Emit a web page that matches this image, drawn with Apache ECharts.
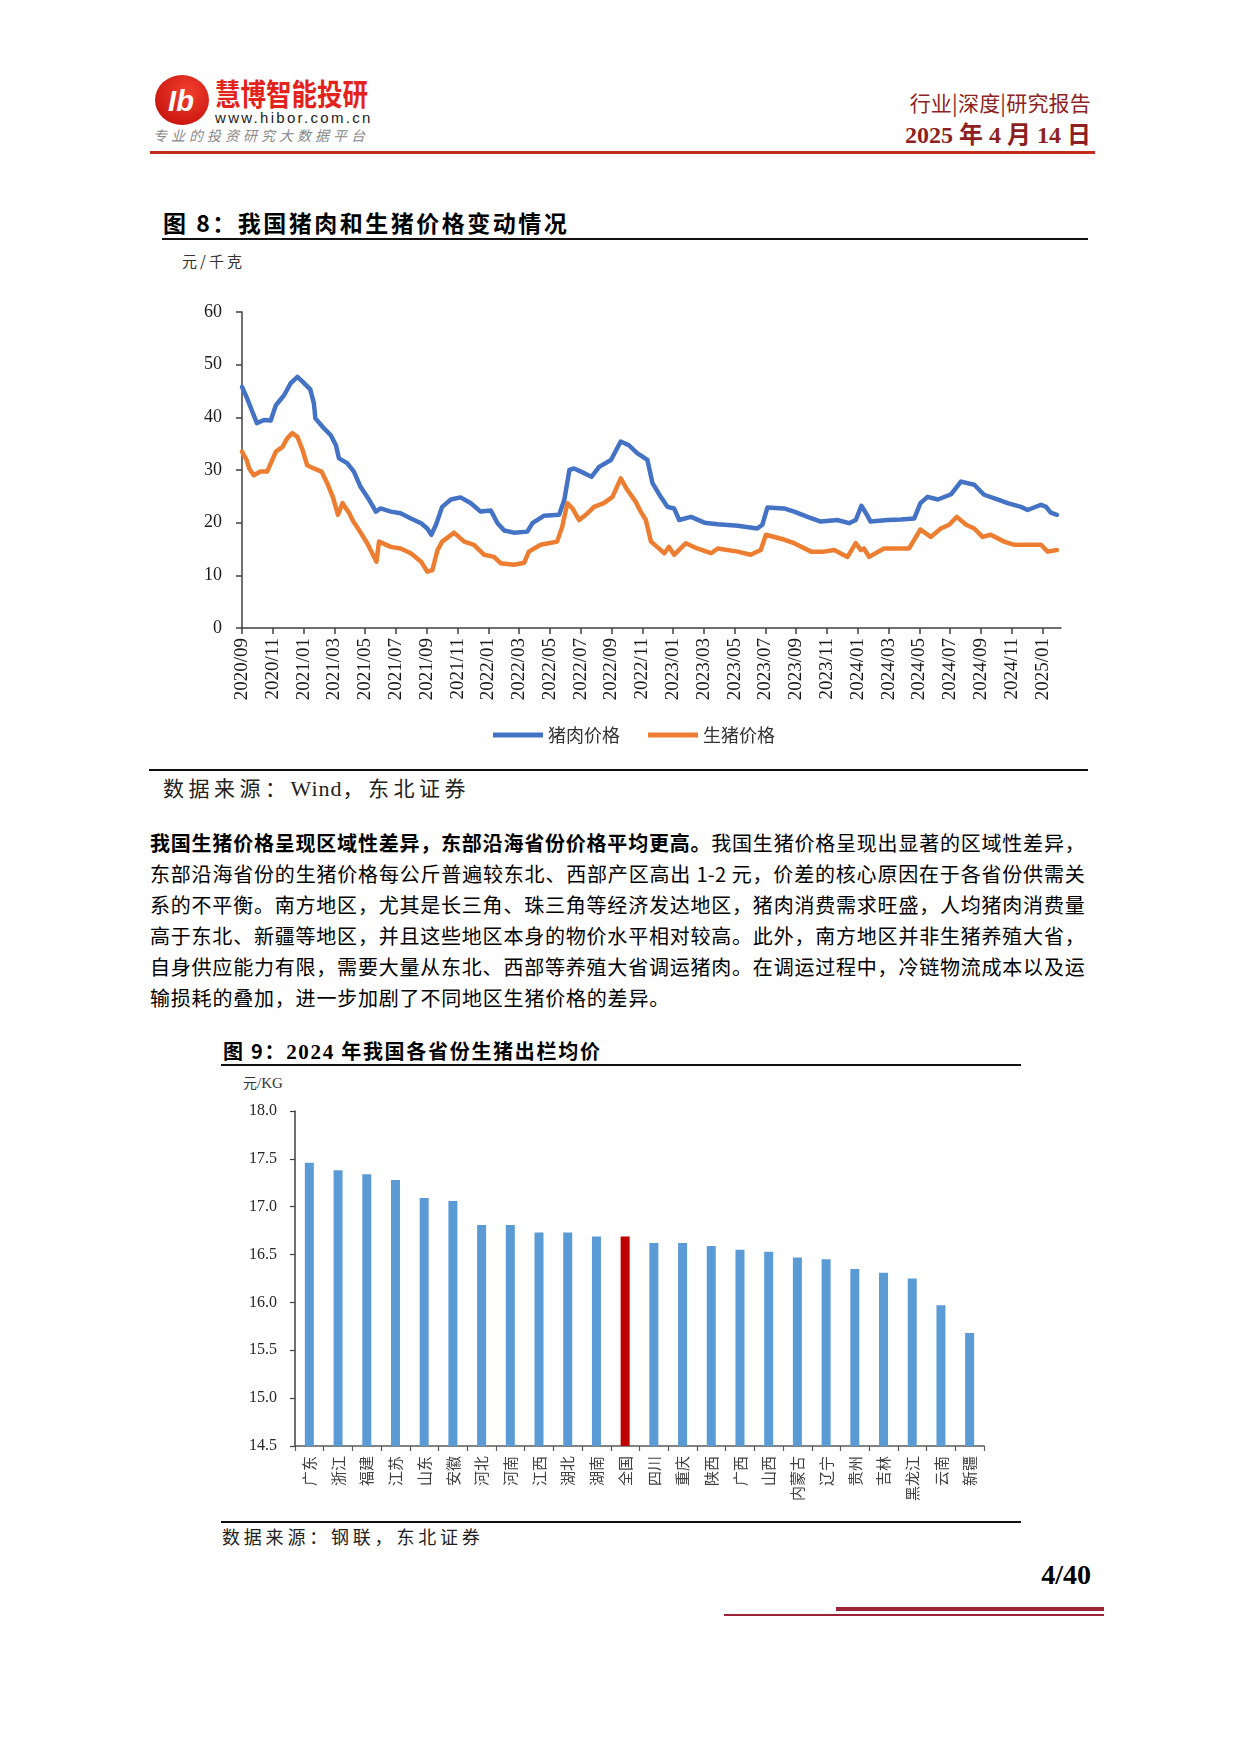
<!DOCTYPE html>
<html>
<head>
<meta charset="utf-8">
<script src="https://cdn.jsdelivr.net/npm/echarts@6/dist/echarts.min.js"></script>
<style>
  html, body { margin: 0; padding: 0; background: #fff; }
  #page { position: relative; width: 1240px; height: 1754px; overflow: hidden; background: #fff;
          font-family: "Noto Sans CJK SC", "Noto Sans", sans-serif; color: #000; }
  .abs { position: absolute; white-space: nowrap; }
  .rule { position: absolute; }
  .para { position: absolute; left: 150px; width: 935px; font-size: 20px; line-height: 31px; height: 31px;
          letter-spacing: 0.3px; text-align: justify; text-align-last: justify; white-space: nowrap; overflow: visible; }
  .para.last { text-align-last: left; text-align: left; letter-spacing: 0.8px; }
</style>
</head>
<body>
<div id="page">
  <!-- header -->
  <svg class="abs" style="left:154px;top:73px;" width="56" height="54" viewBox="0 0 56 54">
    <defs>
      <radialGradient id="lg" cx="0.6" cy="0.35" r="0.7">
        <stop offset="0" stop-color="#F2402F"/>
        <stop offset="1" stop-color="#C8140E"/>
      </radialGradient>
    </defs>
    <ellipse cx="28" cy="27" rx="27" ry="25" fill="url(#lg)"/>
    <text x="27" y="38" text-anchor="middle" font-family="Liberation Sans" font-weight="bold" font-style="italic" font-size="29" fill="#fff">Ib</text>
  </svg>
  <div class="abs" style="left:215px;top:76px;font-size:30px;line-height:32px;font-weight:bold;color:#E3231B;transform:scaleX(0.85);transform-origin:left top;">慧博智能投研</div>
  <div class="abs" style="left:215px;top:109px;font-size:15px;line-height:17px;font-family:'Liberation Sans';color:#222;letter-spacing:2.3px;">www.hibor.com.cn</div>
  <div class="abs" style="left:153px;top:127px;font-size:14px;line-height:16px;color:#8a8a8a;font-style:italic;letter-spacing:4px;">专业的投资研究大数据平台</div>
  <div class="abs" style="right:149px;top:91px;font-size:21px;line-height:23px;color:#8E1F22;letter-spacing:0.2px;">行业|深度|研究报告</div>
  <div class="abs" style="right:149px;top:121px;font-size:24px;line-height:28px;color:#8E1F22;font-family:'Liberation Serif','Noto Sans CJK SC';font-weight:bold;">2025 年 4 月 14 日</div>
  <div class="rule" style="left:150px;top:151px;width:945px;height:3px;background:#C42B1C;"></div>

  <!-- figure 8 -->
  <div class="abs" style="left:163px;top:209px;font-size:23px;line-height:26px;font-weight:bold;letter-spacing:2.5px;">图 8：我国猪肉和生猪价格变动情况</div>
  <div class="rule" style="left:162px;top:238px;width:926px;height:2px;background:#111;"></div>
  <div class="abs" style="left:182px;top:252px;font-size:15px;line-height:17px;color:#333;letter-spacing:3px;">元/千克</div>
  <div id="chart1" class="abs" style="left:150px;top:280px;width:950px;height:480px;"></div>
  <div class="rule" style="left:149px;top:769px;width:939px;height:1.5px;background:#111;"></div>
  <div class="abs" style="left:163px;top:775px;font-size:21px;line-height:24px;color:#222;letter-spacing:4.5px;">数据来源：<span style="font-family:'Liberation Serif';font-size:22px;letter-spacing:1px;">Wind</span>，东北证券</div>

  <!-- paragraph -->
  <div class="para" style="top:827px;"><b>我国生猪价格呈现区域性差异，东部沿海省份价格平均更高。</b>我国生猪价格呈现出显著的区域性差异，</div>
  <div class="para" style="top:858px;">东部沿海省份的生猪价格每公斤普遍较东北、西部产区高出 1-2 元，价差的核心原因在于各省份供需关</div>
  <div class="para" style="top:889px;">系的不平衡。南方地区，尤其是长三角、珠三角等经济发达地区，猪肉消费需求旺盛，人均猪肉消费量</div>
  <div class="para" style="top:920px;">高于东北、新疆等地区，并且这些地区本身的物价水平相对较高。此外，南方地区并非生猪养殖大省，</div>
  <div class="para" style="top:951px;">自身供应能力有限，需要大量从东北、西部等养殖大省调运猪肉。在调运过程中，冷链物流成本以及运</div>
  <div class="para last" style="top:982px;">输损耗的叠加，进一步加剧了不同地区生猪价格的差异。</div>

  <!-- figure 9 -->
  <div class="abs" style="left:223px;top:1039px;font-size:20px;line-height:23px;font-weight:bold;letter-spacing:1.7px;">图 9：<span style="font-family:'Liberation Serif';font-size:21px;">2024</span> 年我国各省份生猪出栏均价</div>
  <div class="rule" style="left:221px;top:1064px;width:800px;height:1.5px;background:#111;"></div>
  <div class="abs" style="left:243px;top:1074px;font-size:14px;line-height:16px;color:#333;">元<span style="font-family:'Liberation Serif';font-size:15px;">/KG</span></div>
  <div id="chart2" class="abs" style="left:200px;top:1090px;width:850px;height:430px;"></div>
  <div class="rule" style="left:221px;top:1521px;width:800px;height:1.5px;background:#111;"></div>
  <div class="abs" style="left:222px;top:1526px;font-size:18px;line-height:21px;color:#222;letter-spacing:3.8px;">数据来源：钢联，东北证券</div>

  <!-- footer -->
  <div class="abs" style="right:149px;top:1559px;font-size:28px;line-height:32px;font-family:'Liberation Serif';font-weight:bold;">4/40</div>
  <div class="rule" style="left:836px;top:1607px;width:268px;height:4px;background:#9B2335;"></div>
  <div class="rule" style="left:724px;top:1614px;width:380px;height:1.5px;background:#9B2335;"></div>
</div>

<script>
// ---------------- Figure 8 data (元/千克) ----------------
const xTickLabels = ['2020/09','2020/11','2021/01','2021/03','2021/05','2021/07','2021/09','2021/11',
  '2022/01','2022/03','2022/05','2022/07','2022/09','2022/11','2023/01','2023/03','2023/05','2023/07',
  '2023/09','2023/11','2024/01','2024/03','2024/05','2024/07','2024/09','2024/11','2025/01'];

const porkDates = ['2020-09-01','2020-09-11','2020-09-21','2020-09-30','2020-10-14','2020-10-27','2020-11-07','2020-11-23',
  '2020-12-06','2020-12-19','2021-01-02','2021-01-14','2021-01-21','2021-01-24','2021-02-08','2021-02-24','2021-03-04',
  '2021-03-10','2021-03-26','2021-04-09','2021-04-22','2021-05-09','2021-05-22','2021-06-01','2021-06-21','2021-07-10',
  '2021-07-30','2021-08-20','2021-09-02','2021-09-10','2021-09-19','2021-10-01','2021-10-18','2021-11-07','2021-11-27',
  '2021-12-16','2022-01-06','2022-01-19','2022-02-02','2022-02-21','2022-03-17','2022-03-27','2022-04-19','2022-05-19',
  '2022-05-29','2022-06-09','2022-06-18','2022-07-08','2022-07-22','2022-08-07','2022-08-30','2022-09-19','2022-10-05',
  '2022-10-21','2022-11-11','2022-11-21','2022-12-07','2022-12-20','2023-01-03','2023-01-13','2023-02-06','2023-03-02',
  '2023-03-28','2023-05-07','2023-06-15','2023-06-25','2023-07-05','2023-08-07','2023-08-27','2023-09-23','2023-10-19',
  '2023-11-21','2023-12-14','2023-12-27','2024-01-08','2024-01-17','2024-01-26','2024-02-29','2024-03-25','2024-04-21',
  '2024-05-03','2024-05-17','2024-06-07','2024-07-03','2024-07-22','2024-08-18','2024-09-07','2024-10-03','2024-10-23',
  '2024-11-19','2024-12-02','2024-12-28','2025-01-08','2025-01-17','2025-01-29'];
const porkPrice = [45.8,43.6,41.1,38.9,39.5,39.4,42.3,44.2,
  46.5,47.7,46.5,45.3,42.7,39.8,38.2,36.6,34.7,
  32.2,31.3,29.7,26.8,24.3,22.1,22.7,22.1,21.8,
  20.8,19.9,18.9,17.7,19.6,23.0,24.4,24.8,23.7,
  22.1,22.3,19.9,18.5,18.1,18.3,19.9,21.3,21.5,
  24.3,30.0,30.3,29.4,28.7,30.6,31.9,35.4,34.7,
  33.2,31.9,27.5,24.9,23.0,22.7,20.5,21.1,20.0,
  19.7,19.4,18.9,19.6,22.9,22.7,22.1,21.1,20.2,
  20.5,19.9,20.5,23.2,21.8,20.2,20.5,20.6,20.8,
  23.7,24.9,24.4,25.4,27.8,27.2,25.3,24.4,23.7,
  23.0,22.4,23.4,23.0,21.9,21.5];

const hogDates = ['2020-09-01','2020-09-10','2020-09-15','2020-09-24','2020-10-07','2020-10-20','2020-10-30','2020-11-07',
  '2020-11-20','2020-11-29','2020-12-09','2020-12-19','2020-12-29','2021-01-08','2021-01-21','2021-02-06','2021-02-17',
  '2021-02-28','2021-03-08','2021-03-17','2021-03-30','2021-04-08','2021-04-19','2021-05-05','2021-05-23','2021-05-28',
  '2021-06-21','2021-07-10','2021-07-30','2021-08-20','2021-09-02','2021-09-12','2021-09-22','2021-10-01','2021-10-24',
  '2021-11-14','2021-12-03','2021-12-23','2022-01-12','2022-01-25','2022-02-21','2022-03-11','2022-03-20','2022-04-13',
  '2022-05-15','2022-05-25','2022-06-05','2022-06-15','2022-06-28','2022-07-11','2022-07-27','2022-08-16','2022-09-03',
  '2022-09-19','2022-10-02','2022-10-18','2022-10-28','2022-11-08','2022-11-18','2022-11-30','2022-12-14','2022-12-23',
  '2023-01-03','2023-01-26','2023-02-18','2023-03-15','2023-03-28','2023-05-07','2023-06-02','2023-06-22','2023-07-02',
  '2023-08-07','2023-08-27','2023-09-30','2023-10-25','2023-11-15','2023-12-11','2023-12-27','2024-01-07','2024-01-13',
  '2024-01-23','2024-02-22','2024-03-18','2024-04-11','2024-05-03','2024-05-23','2024-06-13','2024-06-29','2024-07-14',
  '2024-08-02','2024-08-18','2024-09-04','2024-09-20','2024-10-16','2024-11-06','2024-12-02','2024-12-28','2025-01-11',
  '2025-01-29'];
const hogPrice = [33.5,31.9,30.3,29.0,29.7,29.7,31.9,33.5,
  34.4,36.0,37.0,36.3,33.8,30.9,30.3,29.7,27.5,
  24.9,21.5,23.7,21.8,20.2,18.6,16.1,12.6,16.4,
  15.4,15.1,14.2,12.6,10.7,11.0,14.8,16.4,18.1,
  16.4,15.8,13.9,13.5,12.3,12.0,12.4,14.5,15.8,
  16.4,19.2,23.7,22.7,20.5,21.5,23.0,23.7,24.9,
  28.4,26.2,24.0,22.1,20.5,16.4,15.4,14.2,15.4,
  13.9,16.1,15.1,14.2,15.1,14.5,13.9,14.8,17.7,
  16.8,16.1,14.5,14.5,14.8,13.5,16.1,14.8,15.1,
  13.5,15.1,15.1,15.1,18.7,17.3,18.9,19.6,21.1,
  19.6,18.9,17.3,17.7,16.4,15.8,15.8,15.8,14.5,
  14.8];

// ---------------- Figure 9 data (元/KG) ----------------
const provinces = ['广东','浙江','福建','江苏','山东','安徽','河北','河南','江西','湖北','湖南','全国',
  '四川','重庆','陕西','广西','山西','内蒙古','辽宁','贵州','吉林','黑龙江','云南','新疆'];
const avgPrice = [17.46,17.38,17.34,17.28,17.09,17.06,16.81,16.81,16.73,16.73,16.69,16.69,
  16.62,16.62,16.59,16.55,16.53,16.47,16.45,16.35,16.31,16.25,15.97,15.68];
const highlightName = '全国';

// month index since 2020-09-01 (axis unit = month)
function monthIndex(s) {
  const p = s.split(/[-\/]/).map(Number);
  const d = p.length > 2 ? p[2] : 1;
  return (p[0] - 2020) * 12 + (p[1] - 9) + (d - 1) / 30;
}
const tickVals = xTickLabels.map(monthIndex);

const serif = 'Liberation Serif';
const cjk = 'Noto Sans CJK SC';

const c1 = echarts.init(document.getElementById('chart1'), null, { renderer: 'canvas' });
c1.setOption({
  animation: false,
  grid: { left: 92, top: 32, width: 819, height: 316, containLabel: false },
  legend: {
    data: ['猪肉价格', '生猪价格'], left: 338, top: 441, icon: 'rect', itemWidth: 50, itemHeight: 5,
    itemGap: 28, textStyle: { fontFamily: cjk, fontSize: 18, color: '#333' }
  },
  xAxis: {
    type: 'value', min: 0, max: 53.2,
    axisLine: { show: true, lineStyle: { color: '#404040', width: 1.5 } },
    axisTick: { show: true, length: 6, customValues: tickVals, lineStyle: { color: '#404040', width: 1.5 } },
    axisLabel: {
      customValues: tickVals, rotate: 90, margin: 10, fontFamily: serif, fontSize: 19, color: '#1a1a1a',
      formatter: function (v) {
        const i = tickVals.findIndex(t => Math.abs(t - v) < 1e-6);
        return i >= 0 ? xTickLabels[i] : '';
      }
    },
    splitLine: { show: false }
  },
  yAxis: {
    type: 'value', min: 0, max: 60, interval: 10,
    axisLine: { show: true, lineStyle: { color: '#404040', width: 1.5 } },
    axisTick: { show: true, length: 6, lineStyle: { color: '#404040', width: 1.5 } },
    axisLabel: { margin: 20, fontFamily: serif, fontSize: 18, color: '#1a1a1a' },
    splitLine: { show: false }
  },
  series: [
    { name: '猪肉价格', type: 'line', showSymbol: false, color: '#4472C4',
      lineStyle: { width: 4.5, color: '#4472C4', cap: 'round', join: 'round' },
      data: porkDates.map((d, i) => [monthIndex(d), porkPrice[i]]) },
    { name: '生猪价格', type: 'line', showSymbol: false, color: '#ED7D31',
      lineStyle: { width: 4.5, color: '#ED7D31', cap: 'round', join: 'round' },
      data: hogDates.map((d, i) => [monthIndex(d), hogPrice[i]]) }
  ]
});

const c2 = echarts.init(document.getElementById('chart2'), null, { renderer: 'canvas' });
c2.setOption({
  animation: false,
  grid: { left: 95, top: 21, width: 689, height: 335, containLabel: false },
  xAxis: {
    type: 'category', data: provinces, boundaryGap: true,
    axisLine: { show: true, lineStyle: { color: '#595959', width: 1.5 } },
    axisTick: { show: true, length: 5, lineStyle: { color: '#595959', width: 1.2 } },
    axisLabel: { interval: 0, rotate: 90, margin: 10, fontFamily: cjk, fontSize: 15, color: '#404040' }
  },
  yAxis: {
    type: 'value', min: 14.5, max: 18, interval: 0.5,
    axisLine: { show: true, lineStyle: { color: '#404040', width: 1.5 } },
    axisTick: { show: true, length: 5, lineStyle: { color: '#404040', width: 1.2 } },
    axisLabel: { margin: 18, fontFamily: serif, fontSize: 16, color: '#262626',
      formatter: v => v.toFixed(1) },
    splitLine: { show: false }
  },
  series: [{
    type: 'bar', barWidth: 9,
    data: avgPrice.map((v, i) => ({
      value: v,
      itemStyle: { color: provinces[i] === highlightName ? '#C00000' : '#5B9BD5' }
    }))
  }]
});
</script>
</body>
</html>
